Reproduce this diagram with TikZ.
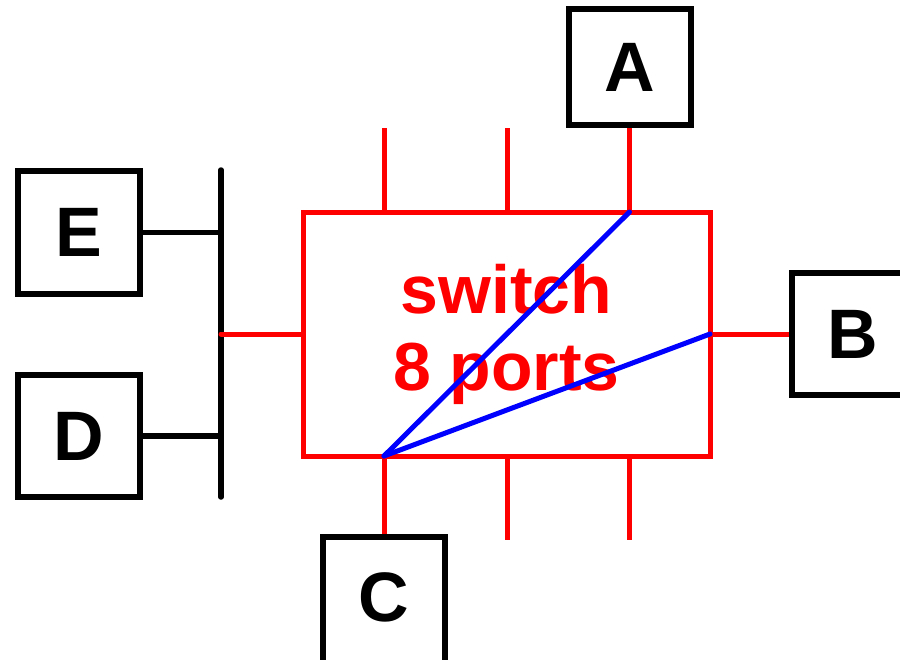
\documentclass[tikz,border=0pt]{standalone}
\usepackage{fontspec}
\setmainfont{Liberation Sans}
\begin{document}
\begin{tikzpicture}[x=1pt,y=-1pt,
  hostbox/.style={draw=black,line width=6pt,rectangle,inner sep=0pt,minimum width=122pt,minimum height=122pt,font=\fontsize{70}{80}\selectfont\bfseries},
  swbox/.style={draw=red,line width=5pt,rectangle,inner sep=0pt,minimum width=407pt,minimum height=244pt,align=center,text=red,font=\fontsize{68}{77}\selectfont\bfseries},
  redline/.style={draw=red,line width=5pt},
  blackline/.style={draw=black,line width=5.5pt},
  blueline/.style={draw=blue,line width=5pt,line cap=round}]
\useasboundingbox (0,0) rectangle (900,659);
\clip (0,0) rectangle (900,659);
% switch
\node[swbox] (sw) at (506.5,334) {switch\\8 ports};
% hosts
\node[hostbox,minimum height=116pt] (A) at (629.5,67) {A};
\node[hostbox] (B) at (853,334) {B};
\node[hostbox,minimum height=130pt] (C) at (384,602) {};
\node[font=\fontsize{70}{80}\selectfont\bfseries] (Ct) at (384,597) {C};
\node[hostbox,minimum height=123pt] (E) at (79,232.5) {E};
\node[hostbox] (D) at (79,436) {D};
% ports coordinates
\coordinate (pA) at (629.5,212);
\coordinate (pT1) at (384,212);
\coordinate (pT2) at (507,212);
\coordinate (pC) at (384,456);
\coordinate (pB1) at (507,456);
\coordinate (pB2) at (629,456);
\coordinate (pL) at (303,334);
\coordinate (pR) at (710,334);
\coordinate (fT1) at (384,128);
\coordinate (fT2) at (507,128);
\coordinate (fB1) at (507,540);
\coordinate (fB2) at (629,540);
% bus
\coordinate (busTop) at (221,170);
\coordinate (busBot) at (221,497);
\coordinate (busE) at (221,232.5);
\coordinate (busD) at (221,436);
\coordinate (busM) at (221,334);
\draw[blackline,line cap=round] (busTop) -- (busBot);
\draw[blackline] (E.east) -- (busE);
\draw[blackline] (D.east) -- (busD);
% red stubs
\draw[redline,line cap=round] (busM) -- (pL);
\draw[redline] (pR) -- (B.west);
\draw[redline] (pA) -- (A.south);
\draw[redline] (pC) -- (C.north);
\draw[redline] (pT1) -- (fT1);
\draw[redline] (pT2) -- (fT2);
\draw[redline] (pB1) -- (fB1);
\draw[redline] (pB2) -- (fB2);
% blue paths
\draw[blueline] (pC) -- (pA);
\draw[blueline] (pC) -- (pR);
\end{tikzpicture}
\end{document}
